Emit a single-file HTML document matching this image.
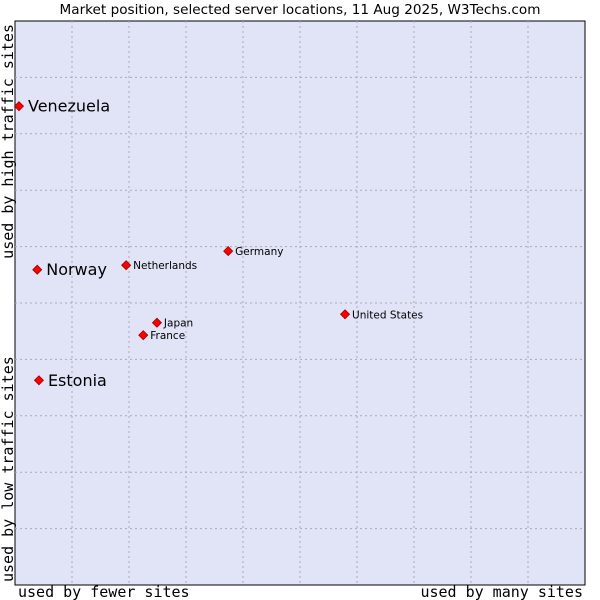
<!DOCTYPE html>
<html><head><meta charset="utf-8"><style>
body{margin:0;background:#fff;width:600px;height:600px;overflow:hidden}
svg{display:block;font-family:"DejaVu Sans","Liberation Sans",sans-serif}
.mono{font-family:"DejaVu Sans Mono","Liberation Mono",monospace}
</style></head><body>
<svg id="chart" width="600" height="600">
<text x="300" y="14" text-anchor="middle" font-size="13.6" fill="#000">Market position, selected server locations, 11 Aug 2025, W3Techs.com</text>
<rect x="15" y="21" width="570" height="564" fill="#e1e4f7" stroke="#000" stroke-width="1"/>
<g id="grid"></g>
<g id="points"></g>
<text class="mono" x="18" y="597" font-size="15">used by fewer sites</text>
<text class="mono" x="583" y="597" font-size="15" text-anchor="end">used by many sites</text>
<text class="mono" transform="translate(13,582) rotate(-90)" font-size="15">used by low traffic sites</text>
<text class="mono" transform="translate(13,24) rotate(-90)" font-size="15" text-anchor="end">used by high traffic sites</text>
</svg>
<script>
const names=["Venezuela","Norway","Estonia","Netherlands","Germany","Japan","France","United States"];
const xVals=[0.7,3.9,4.2,19.5,37.4,24.9,22.5,57.9];
const yVals=[84.9,55.9,36.3,56.7,59.2,46.5,44.3,48.0];
const big=[true,true,true,false,false,false,false,false];
const L=15,T=21,W=570,H=564;
const sx=v=>L+v/100*W, sy=v=>T+H-v/100*H;
const NS="http://www.w3.org/2000/svg";
const g=document.getElementById('grid'), p=document.getElementById('points');
for(let i=1;i<10;i++){
 const a=document.createElementNS(NS,'line');
 a.setAttribute('x1',sx(i*10));a.setAttribute('x2',sx(i*10));a.setAttribute('y1',T);a.setAttribute('y2',T+H);
 a.setAttribute('stroke','#aaa');a.setAttribute('stroke-dasharray','2,3');
 
 
 g.appendChild(a);
 const b=document.createElementNS(NS,'line');
 b.setAttribute('y1',sy(i*10));b.setAttribute('y2',sy(i*10));b.setAttribute('x1',L);b.setAttribute('x2',L+W);
 b.setAttribute('stroke','#aaa');b.setAttribute('stroke-dasharray','2,3');
 
 
 g.appendChild(b);
}
names.forEach((n,i)=>{
 const x=sx(xVals[i]),y=sy(yVals[i]);
 const d=document.createElementNS(NS,'path');
 d.setAttribute('d',`M${x-4.5},${y}L${x},${y-4.5}L${x+4.5},${y}L${x},${y+4.5}Z`);
 d.setAttribute('fill','#f00');d.setAttribute('stroke','#900');d.setAttribute('stroke-width','0.8');
 
 
 p.appendChild(d);
 const t=document.createElementNS(NS,'text');
 t.setAttribute('x',x+(big[i]?9:7));t.setAttribute('y',y+(big[i]?5.5:4));
 t.setAttribute('font-size',big[i]?'16':'10.5');
 t.textContent=n;
 
 
 p.appendChild(t);
});
</script>
</body></html>
